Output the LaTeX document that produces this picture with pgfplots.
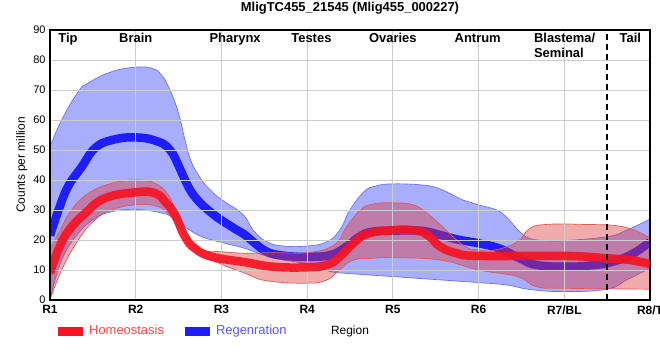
\documentclass[border=0pt]{standalone}
\usepackage{fontspec}
\setmainfont{Liberation Sans}
\usepackage{pgfplots}
\pgfplotsset{compat=1.18}
\usepgfplotslibrary{fillbetween}
\pgfplotsset{layers/mine/.define layer set={axis background,axis grid,axis ticks,axis lines,axis tick labels,pre main,bandA,lineA,bandB,main,axis descriptions,axis foreground}{}}
\definecolor{regline}{RGB}{30,30,250}
\definecolor{homline}{RGB}{245,20,35}
\definecolor{regband}{RGB}{90,100,250}
\definecolor{homband}{RGB}{225,55,55}
\definecolor{regedge}{RGB}{110,120,255}
\definecolor{homedge}{RGB}{225,100,100}
\definecolor{gridc}{RGB}{204,204,204}
\definecolor{homtext}{RGB}{255,70,70}
\definecolor{regtext}{RGB}{85,85,255}
\begin{document}
\begin{tikzpicture}
\begin{axis}[
  name=ax, set layers=mine, clip mode=individual,
  scale only axis, width=600bp, height=270bp,
  xmin=0, xmax=7, ymin=0, ymax=90,
  xtick={0,1,2,3,4,5,6,7},
  xticklabels={R1,R2,R3,R4,R5,R6,R7/BL,R8/T},
  ytick={0,10,...,90},
  grid=major, grid style={gridc, line width=0.9bp},
  major tick length=0pt,
  axis line style={black, line width=1.2bp},
  /pgf/number format/assume math mode=true,
  ticklabel style={font=\fontsize{11}{13}\selectfont},
  xticklabel style={font=\fontsize{12}{14}\selectfont\bfseries, yshift=-2bp},
  yticklabel style={xshift=-1bp},
  ylabel={Counts per million},
  ylabel style={font=\fontsize{12}{14}\selectfont, at={(axis description cs:-0.047,0.5)}, anchor=center, rotate=0},
  xlabel={Region},
  xlabel style={font=\fontsize{12}{14}\selectfont, at={(axis description cs:0.5,-0.115)}, anchor=center},
  legend style={at={(axis description cs:0.0,-0.115)}, anchor=west, draw=none, fill=none,
    font=\fontsize{13}{15}\selectfont, legend cell align=left,
    /tikz/every even column/.append style={column sep=14bp}},
  legend columns=2,
  every axis plot/.append style={tension=0.75},
]
% Regeneration band
\addplot[name path=bu, regedge, line width=0.7bp, smooth, forget plot, on layer=bandA] coordinates {
(0,51) (0.136,60) (0.33,69.4) (0.45,72.4) (0.72,76.1) (1.0,77.6) (1.19,77.2) (1.30,75) (1.40,70) (1.50,62.2) (1.575,53.3) (1.65,46) (1.77,40) (1.89,36.1) (2.0,33.5) (2.25,28.5) (2.37,23.3) (2.53,19.4) (2.72,18) (3.0,18) (3.23,19.4) (3.38,23.3) (3.5,30) (3.66,36) (3.8,38) (4.0,38.7) (4.35,38.3) (4.55,37) (4.82,33.3) (5.0,31.7) (5.21,30) (5.33,27.5) (5.48,22.8) (5.6,20.5) (5.8,19.8) (6.0,19.8) (6.5,21.1) (6.73,23.3) (7.0,27)};
\addplot[name path=bl, regedge, line width=0.7bp, smooth, forget plot, on layer=bandA] coordinates {
(0,0) (0.136,13.3) (0.33,22.2) (0.525,27.2) (0.72,29.4) (1.0,30.2) (1.3,29) (1.41,27.8) (1.575,24.4) (1.77,21.1) (2.04,18.9) (2.275,17.2) (2.6,14) (3.0,12) (3.27,9.5) (3.5,8.8) (4.0,7.8) (4.55,6.7) (5.0,5.8) (5.33,5) (5.6,3.5) (6.0,2.8) (6.5,3.6) (6.73,6.7) (7.0,10.6)};
\addplot[fill=regband, fill opacity=0.52, draw=none, forget plot] fill between[of=bu and bl, on layer=bandA];
% Regeneration mean
\addplot[regline, line width=8.5bp, smooth, forget plot, on layer=lineA] coordinates {
(0,21.5) (0.1,30) (0.21,37.8) (0.37,44.4) (0.525,50.6) (0.72,53.3) (1.0,54.2) (1.26,52.8) (1.40,50) (1.5,44.8) (1.575,40) (1.69,34.4) (1.89,28.9) (2.12,24.4) (2.275,21.7) (2.37,19.4) (2.53,16.1) (2.72,14.8) (3.0,14.4) (3.27,15) (3.46,17.8) (3.62,21.3) (3.77,22.8) (4.0,23.1) (4.32,23.1) (4.55,21.7) (4.75,20.2) (5.0,18.9) (5.24,17.2) (5.48,13.9) (5.67,11.7) (6.0,11.1) (6.30,11.5) (6.57,12.8) (6.81,15.6) (7.0,19.4)};
% Homeostasis band
\addplot[name path=hu, homedge, line width=0.7bp, smooth, forget plot, on layer=bandB] coordinates {
(0,17) (0.097,22.2) (0.25,30) (0.45,35.6) (0.72,38.9) (1.0,40) (1.225,38.9) (1.38,35) (1.5,27.8) (1.61,21.1) (1.77,16.7) (2.0,16.1) (2.275,15.6) (2.6,15.8) (3.0,15.8) (3.31,18.3) (3.46,24.4) (3.62,30) (3.77,32) (4.0,32.4) (4.24,31.7) (4.4,28.9) (4.55,25.2) (4.82,18.3) (5.0,16.7) (5.2,16.7) (5.45,19.4) (5.6,23.9) (5.8,25.2) (6.2,25.2) (6.69,24.4) (7.0,20.6)};
\addplot[name path=hl, homedge, line width=0.7bp, smooth, forget plot, on layer=bandB] coordinates {
(0,0) (0.136,10) (0.33,20) (0.525,26.7) (0.72,30) (1.0,31.7) (1.26,31.1) (1.41,27.8) (1.54,22.8) (1.65,17.8) (1.89,13.3) (2.275,8.9) (2.53,6.4) (3.0,5.6) (3.23,6.7) (3.38,10) (3.54,13.3) (3.77,13.9) (4.0,14.1) (4.55,13.3) (5.0,10) (5.45,7.8) (5.68,4.4) (6.0,3.9) (7.0,3.6)};
\addplot[fill=homband, fill opacity=0.42, draw=none, forget plot] fill between[of=hu and hl, on layer=bandB];
% Homeostasis mean
\addplot[homline, opacity=0.92, line width=8.5bp, smooth, forget plot] coordinates {
(0,9) (0.097,16.7) (0.21,22.8) (0.41,28.9) (0.64,33.9) (1.0,35.9) (1.225,35.6) (1.36,32.2) (1.46,28.3) (1.575,21.1) (1.69,17.2) (1.89,14.4) (2.275,12.6) (2.6,11.1) (3.0,10.9) (3.23,11.7) (3.38,14.4) (3.54,18.9) (3.70,22) (4.0,23.3) (4.28,23.1) (4.43,21.1) (4.55,17.8) (4.74,15.6) (5.0,14.7) (6.0,14.7) (6.5,13.9) (6.77,13.3) (7.0,12)};
% Tail separator
\addplot[black, line width=2.5bp, dash pattern=on 6bp off 4bp, forget plot] coordinates {(6.5,0) (6.5,90)};
% Region labels
\begin{scope}[font=\fontsize{13}{15}\selectfont\bfseries, inner sep=0pt]
\node[anchor=north] at (axis cs:0.21,89) {Tip};
\node[anchor=north] at (axis cs:1.0,89) {Brain};
\node[anchor=north] at (axis cs:2.16,89) {Pharynx};
\node[anchor=north] at (axis cs:3.05,89) {Testes};
\node[anchor=north] at (axis cs:4.0,89) {Ovaries};
\node[anchor=north] at (axis cs:4.99,89) {Antrum};
\node[anchor=north west, align=left] at (axis cs:5.645,89) {Blastema/\\Seminal};
\node[anchor=north] at (axis cs:6.77,89) {Tail};
\end{scope}
\addlegendimage{legend image code/.code={\draw[homline, line width=9bp] (0bp,0bp) -- (25bp,0bp);}}
\addlegendentry[text=homtext]{Homeostasis}
\addlegendimage{legend image code/.code={\draw[regline, line width=9bp] (0bp,0bp) -- (25bp,0bp);}}
\addlegendentry[text=regtext]{Regenration}
\end{axis}
\draw[black, line width=2.6bp] (ax.north west) -- (ax.south west) -- (ax.south east);
\node[font=\fontsize{13}{15}\selectfont\bfseries, anchor=center] at ([yshift=22bp]ax.north) {MligTC455\_21545 (Mlig455\_000227)};
\pgfresetboundingbox
\path[use as bounding box] ([xshift=-50bp,yshift=-60bp]ax.south west) rectangle ([xshift=10bp,yshift=30bp]ax.north east);
\end{tikzpicture}
\end{document}
